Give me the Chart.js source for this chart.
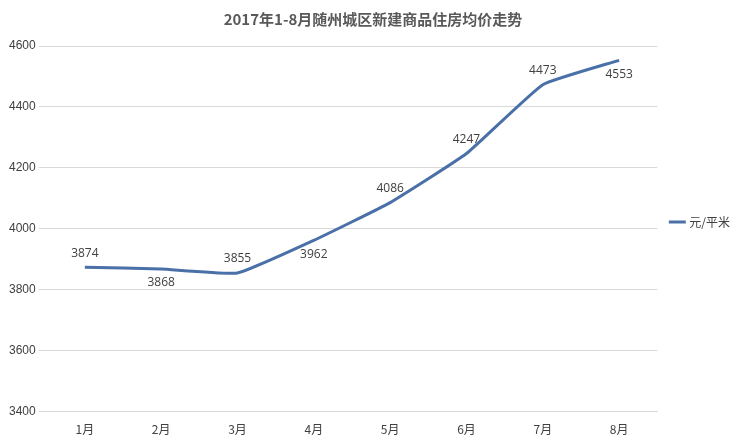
<!DOCTYPE html>
<html><head><meta charset="utf-8">
<script src="https://cdn.jsdelivr.net/npm/chart.js@4"></script>
<style>body{margin:0;background:#fff}#wrap{width:750px;height:444px}</style>
</head><body><div id="wrap"><canvas id="myChart"></canvas></div>
<script>
const months = ['1月','2月','3月','4月','5月','6月','7月','8月'];
const prices = [3874, 3868, 3855, 3962, 4086, 4247, 4473, 4553];
const labelBelow = [false, true, false, true, false, false, false, true];

const valueLabels = {
  id: 'valueLabels',
  afterDatasetsDraw(chart) {
    const c = chart.ctx;
    const pts = chart.getDatasetMeta(0).data;
    c.save();
    c.font = '12px "Open Sans", sans-serif';
    c.fillStyle = '#404040';
    c.textAlign = 'center';
    pts.forEach((p, i) => {
      c.textBaseline = labelBelow[i] ? 'top' : 'bottom';
      c.fillText(prices[i], p.x, labelBelow[i] ? p.y + 8 : p.y - 8);
    });
    c.restore();
  }
};

new Chart(document.getElementById('myChart'), {
  type: 'line',
  data: {
    labels: months,
    datasets: [{
      label: '元/平米',
      data: prices,
      borderColor: '#4a70a8',
      backgroundColor: '#4a70a8',
      borderWidth: 3,
      pointRadius: 0,
      tension: 0.12
    }]
  },
  options: {
    responsive: true,
    maintainAspectRatio: false,
    animation: false,
    layout: { padding: { left: 6, right: 10, top: 4, bottom: 4 } },
    plugins: {
      title: {
        display: true,
        text: '2017年1-8月随州城区新建商品住房均价走势',
        color: '#595959',
        font: { size: 15, weight: 'bold', family: '"Noto Sans CJK SC", sans-serif' },
        padding: { top: 6, bottom: 18 }
      },
      legend: {
        position: 'right',
        labels: {
          usePointStyle: true,
          pointStyle: 'line',
          boxWidth: 24,
          padding: 14,
          color: '#404040',
          font: { size: 12, family: '"Noto Sans CJK SC", sans-serif' }
        }
      },
      tooltip: { enabled: false }
    },
    scales: {
      x: {
        offset: true,
        grid: { display: false },
        border: { color: '#d9d9d9' },
        ticks: { color: '#404040', font: { size: 12, family: '"Noto Sans CJK SC", sans-serif' } }
      },
      y: {
        min: 3400,
        max: 4600,
        ticks: { stepSize: 200, color: '#404040', font: { size: 12 }, callback: v => String(v) },
        grid: { color: '#d9d9d9' },
        border: { display: false }
      }
    }
  },
  plugins: [valueLabels]
});
</script></body></html>
